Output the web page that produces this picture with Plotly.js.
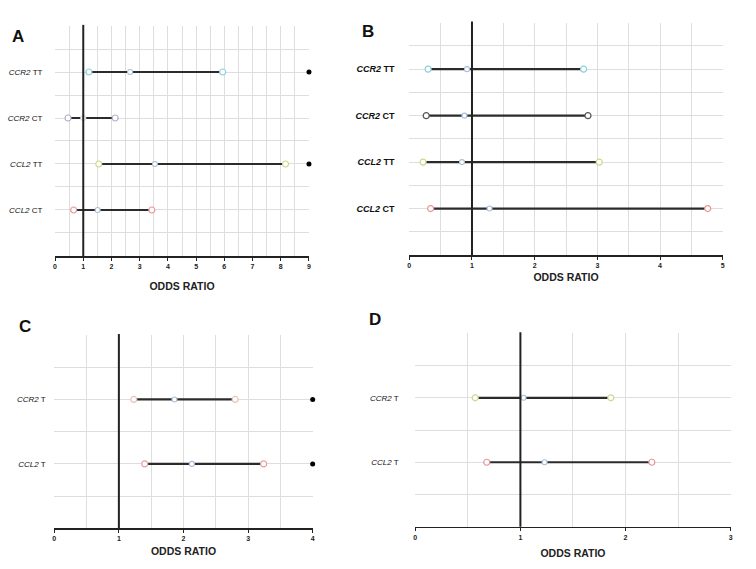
<!DOCTYPE html>
<html><head><meta charset="utf-8">
<script src="https://cdn.plot.ly/plotly-3.0.1.min.js"></script>
<style>body{margin:0;background:#fff}#c{width:756px;height:569px}</style>
</head><body><div id="c"></div>
<script>
// ---- Data ----
const A_labels = ["CCR2 TT", "CCR2 CT", "CCL2 TT", "CCL2 CT"];
const A_pos = [8, 6, 4, 2];
const A_low = [1.20, 0.46, 1.55, 0.66];
const A_or = [2.66, 1.00, 3.54, 1.51];
const A_high = [5.94, 2.13, 8.17, 3.43];
const A_off_pos = [8, 4];
const A_off_x = [9, 9];
const A_xticks = [0, 1, 2, 3, 4, 5, 6, 7, 8, 9];

const B_labels = ["CCR2 TT", "CCR2 CT", "CCL2 TT", "CCL2 CT"];
const B_pos = [8, 6, 4, 2];
const B_low = [0.30, 0.27, 0.22, 0.34];
const B_or = [0.92, 0.88, 0.84, 1.28];
const B_high = [2.78, 2.85, 3.03, 4.76];
const B_xticks = [0, 1, 2, 3, 4, 5];

const C_labels = ["CCR2 T", "CCL2 T"];
const C_pos = [4, 2];
const C_low = [1.23, 1.40];
const C_or = [1.86, 2.13];
const C_high = [2.80, 3.24];
const C_off_pos = [4, 2];
const C_off_x = [4, 4];
const C_xticks = [0, 1, 2, 3, 4];

const D_labels = ["CCR2 T", "CCL2 T"];
const D_pos = [4, 2];
const D_low = [0.57, 0.68];
const D_or = [1.03, 1.23];
const D_high = [1.86, 2.25];
const D_xticks = [0, 1, 2, 3];

// ---- Styles ----
const colA = ["#8ccfdc", "#b8aec8", "#cdd98a", "#e89494"];
const colB = ["#8ccfdc", "#555555", "#cdd98a", "#e89494"];
const colC = ["#e2c4b4", "#e4a0a0"];
const colD = ["#cdd98a", "#e89494"];
const midCol = "#a9bfd8";
const FONT = "'Liberation Sans', Arial, sans-serif";

const traces = [];
function panel(ax, labels, pos, low, or, high, cols, midCols) {
  const xa = 'x' + ax, ya = 'y' + ax;
  const lx = [], ly = [];
  for (let i = 0; i < pos.length; i++) { lx.push(low[i], high[i], null); ly.push(pos[i], pos[i], null); }
  traces.push({x: lx, y: ly, xaxis: xa, yaxis: ya, mode: 'lines', line: {color: '#2b2b2b', width: 2.2}, hoverinfo: 'skip'});
  traces.push({x: low.concat(high), y: pos.concat(pos), xaxis: xa, yaxis: ya, mode: 'markers',
    marker: {symbol: 'circle', size: 6, color: '#ffffff', line: {color: cols.concat(cols), width: 1.2}}});
  traces.push({x: or, y: pos, xaxis: xa, yaxis: ya, mode: 'markers',
    marker: {symbol: 'circle', size: 5, color: '#ffffff', line: {color: midCols, width: 1.1}}});
}
panel('', A_labels, A_pos, A_low, A_or, A_high, colA, [midCol, '#dddddd', midCol, midCol]);
panel('2', B_labels, B_pos, B_low, B_or, B_high, colB, [midCol, midCol, midCol, midCol]);
panel('3', C_labels, C_pos, C_low, C_or, C_high, colC, [midCol, midCol]);
panel('4', D_labels, D_pos, D_low, D_or, D_high, colD, [midCol, midCol]);
traces.push({x: A_off_x, y: A_off_pos, xaxis: 'x', yaxis: 'y', mode: 'markers', cliponaxis: false, marker: {size: 5, color: '#000'}});
traces.push({x: C_off_x, y: C_off_pos, xaxis: 'x3', yaxis: 'y3', mode: 'markers', cliponaxis: false, marker: {size: 5, color: '#000'}});

function xaxis(dom, ticks, anchor, titleStandoff) {
  return {domain: dom, anchor: anchor, range: [0, ticks[ticks.length - 1]], tickvals: ticks, ticktext: ticks.map(String),
    showgrid: true, gridcolor: '#dedede', gridwidth: 1, zeroline: false,
    minor: {dtick: 0.5, showgrid: true, gridcolor: '#dedede', gridwidth: 1, ticks: ''},
    showline: true, linecolor: '#222', linewidth: 1.6, ticks: 'outside', ticklen: 3, tickcolor: '#222',
    tickfont: {family: FONT, size: 7, color: '#222', weight: 'bold'},
    title: {text: 'ODDS RATIO', font: {family: FONT, size: 10.5, color: '#222', weight: 'bold'}, standoff: titleStandoff},
    fixedrange: true};
}
function yaxis(dom, pos, labels, top, anchor, bold, size, gap) {
  const txt = labels.map(l => { const p = l.split(' '); return '<i>' + p[0] + '</i> ' + p[1]; });
  return {domain: dom, anchor: anchor, range: [0, top], tickvals: pos, ticktext: txt,
    showgrid: true, gridcolor: '#dedede', zeroline: false,
    minor: {dtick: 1, showgrid: true, gridcolor: '#dedede', ticks: ''},
    showline: false, ticks: 'outside', ticklen: gap, tickcolor: 'rgba(0,0,0,0)',
    tickfont: {family: FONT, size: size, color: '#111', weight: bold ? 'bold' : 'normal'}, fixedrange: true};
}
function vline(xr, yr) {
  return {type: 'line', xref: xr, yref: yr + ' domain', x0: 1, x1: 1, y0: 0, y1: 1.005, line: {color: '#222', width: 2}};
}
const layout = {
  width: 756, height: 569, margin: {l: 0, r: 0, t: 0, b: 0}, showlegend: false,
  paper_bgcolor: '#fff', plot_bgcolor: '#fff', font: {family: FONT},
  xaxis: xaxis([0.0728, 0.4087], A_xticks, 'y', 13),
  yaxis: yaxis([0.5501, 0.9543], A_pos, A_labels, 10, 'x', false, 8, 10),
  xaxis2: xaxis([0.5414, 0.9560], B_xticks, 'y2', 5),
  yaxis2: yaxis([0.5518, 0.9601], B_pos, B_labels, 10, 'x2', true, 9, 12),
  xaxis3: xaxis([0.0718, 0.4136], C_xticks, 'y3', 6),
  yaxis3: yaxis([0.0715, 0.4112], C_pos, C_labels, 6, 'x3', false, 8, 6),
  xaxis4: xaxis([0.5493, 0.9665], D_xticks, 'y4', 10),
  yaxis4: yaxis([0.0743, 0.4142], D_pos, D_labels, 6, 'x4', false, 8, 14),
  shapes: [vline('x', 'y'), vline('x2', 'y2'), vline('x3', 'y3'), vline('x4', 'y4')],
  annotations: [
    {text: 'A', x: 10 / 756, y: 1 - 37 / 569},
    {text: 'B', x: 360 / 756, y: 1 - 31 / 569},
    {text: 'C', x: 17 / 756, y: 1 - 326 / 569},
    {text: 'D', x: 367 / 756, y: 1 - 319 / 569}
  ].map(a => Object.assign(a, {xref: 'paper', yref: 'paper', xanchor: 'left', yanchor: 'middle', showarrow: false,
    font: {family: "'Liberation Sans', Arial, sans-serif", size: 17, color: '#111', weight: 'bold'}}))
};
Plotly.newPlot('c', traces, layout, {staticPlot: true, displayModeBar: false});
</script></body></html>
